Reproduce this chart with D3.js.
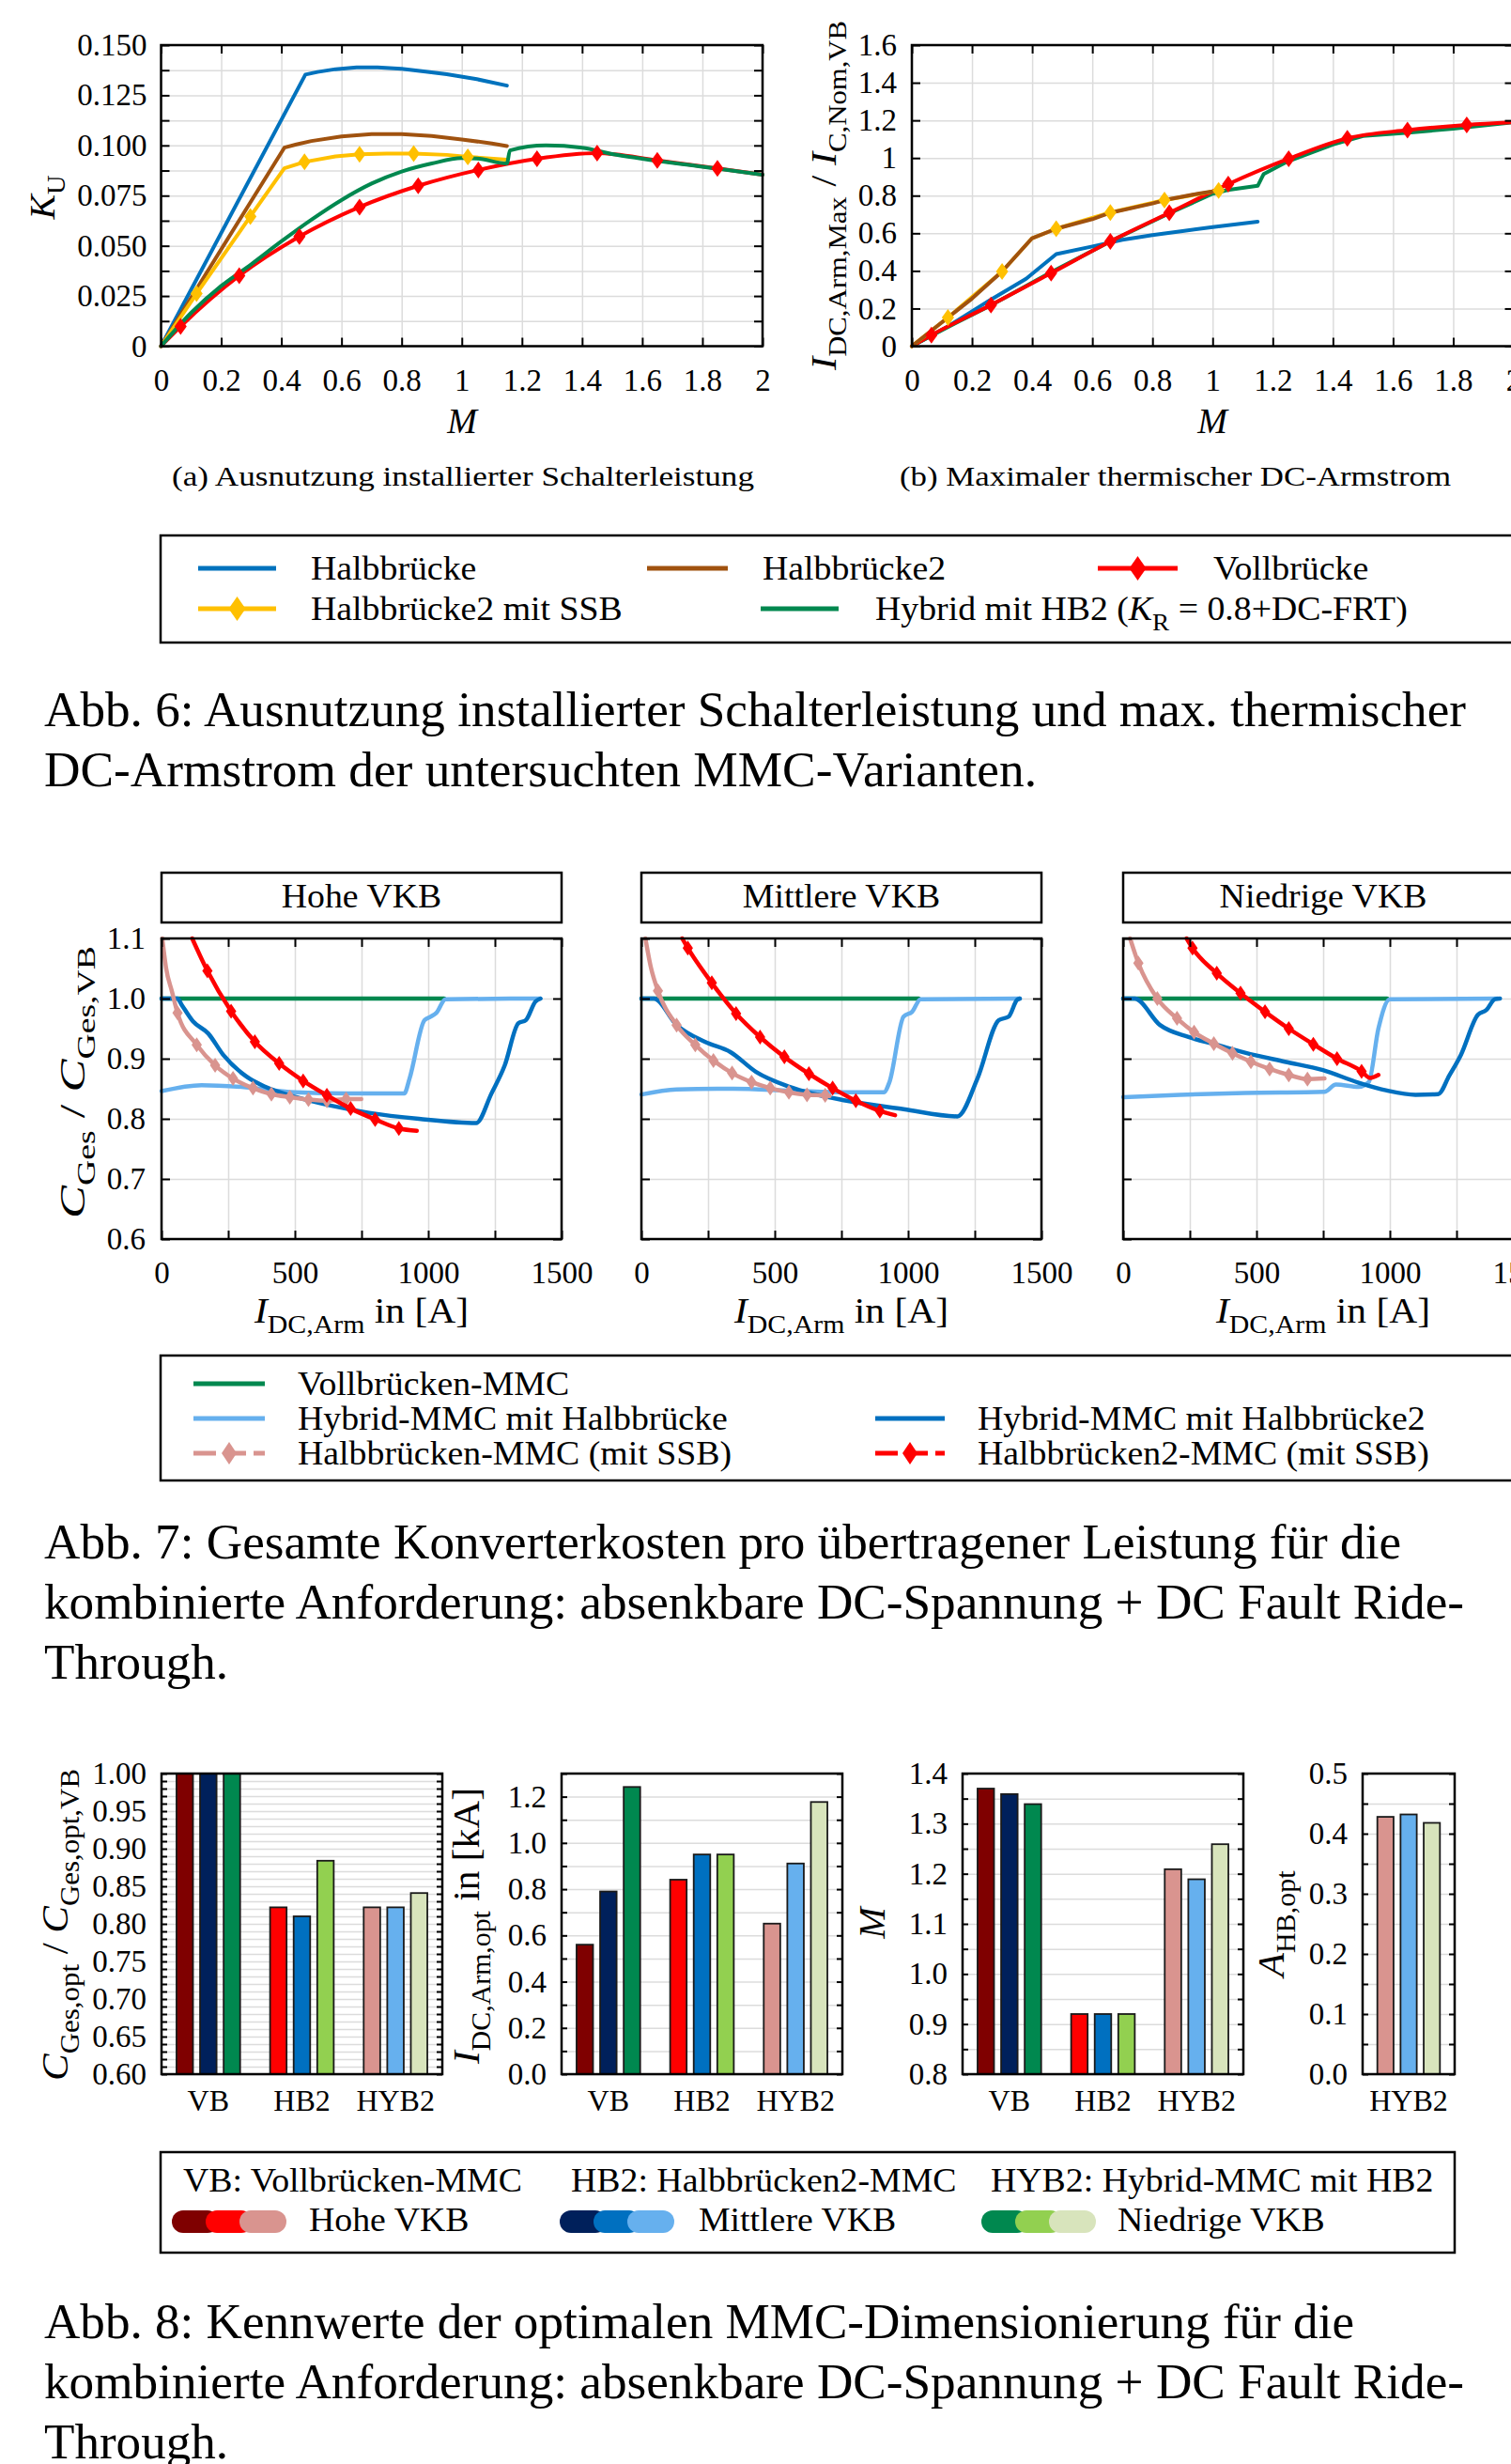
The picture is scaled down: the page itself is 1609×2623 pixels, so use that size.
<!DOCTYPE html>
<html>
<head>
<meta charset="utf-8">
<script src="https://cdn.jsdelivr.net/npm/d3@7"></script>
<style>
    body { margin: 0; background: #fff; }
    svg text { font-family: "Liberation Serif", "DejaVu Serif", serif; fill: #000; }
    .grid line { stroke: #dcdcdc; stroke-width: 1.5; }
    .frame line { stroke: #000; stroke-width: 2; }
</style>
</head>
<body>
<svg id="page" width="1609" height="2623"></svg>
<script>
// ---------- Abb. 6a: K_U over M  ([M, value, marker?]) ----------
var kuHalbbruecke = [[0, 0], [0.48, 0.1353], [0.52, 0.1366], [0.58, 0.1380], [0.65, 0.1389], [0.72, 0.1389], [0.8, 0.1382], [0.88, 0.1368], [0.95, 0.1355], [1.05, 0.1330], [1.15, 0.1298]];
var kuHalbbruecke2 = [[0, 0], [0.41, 0.0989], [0.45, 0.1005], [0.5, 0.1022], [0.6, 0.1045], [0.7, 0.1057], [0.8, 0.1057], [0.9, 0.1047], [1.0, 0.1030], [1.1, 0.1010], [1.15, 0.0997]];
var kuHalbbruecke2SSB = [[0, 0], [0.118, 0.0262, 1], [0.297, 0.0646, 1], [0.41, 0.0886], [0.477, 0.0918, 1], [0.58, 0.0945], [0.66, 0.0956, 1], [0.75, 0.0959], [0.84, 0.0959, 1], [0.95, 0.0953], [1.02, 0.0943, 1], [1.15, 0.0929]];
var kuVollbruecke = [[0, 0], [0.065, 0.0098, 1], [0.26, 0.0351, 1], [0.46, 0.0546, 1], [0.66, 0.0693, 1], [0.855, 0.0799, 1], [1.055, 0.0878, 1], [1.25, 0.0934, 1], [1.45, 0.0962, 1], [1.65, 0.0926, 1], [1.85, 0.0886, 1], [2.0, 0.0854]];
var kuHybrid = [[0, 0], [0.1, 0.0166], [0.2, 0.0300], [0.3, 0.0408], [0.4, 0.0522], [0.5, 0.0630], [0.6, 0.0728], [0.7, 0.0810], [0.8, 0.0870], [0.9, 0.0910], [1.0, 0.0937], [1.05, 0.0935], [1.15, 0.0910], [1.16, 0.0975], [1.28, 0.1000], [1.4, 0.0989], [1.5, 0.0957], [1.6, 0.0934], [1.8, 0.0894], [2.0, 0.0854]];

// ---------- Abb. 6b: I_DC,Arm,Max / I_C,Nom,VB over M ----------
var idcHalbbruecke = [[0, 0], [0.12, 0.105], [0.26, 0.245], [0.38, 0.358], [0.48, 0.489], [0.6, 0.530], [0.7, 0.565], [0.8, 0.590], [0.9, 0.612], [1.0, 0.633], [1.15, 0.662]];
var idcHalbbruecke2 = [[0, 0], [0.12, 0.152], [0.2, 0.253], [0.3, 0.397], [0.4, 0.574], [0.48, 0.624], [0.6, 0.675], [0.66, 0.709], [0.8, 0.758], [0.84, 0.776], [0.95, 0.810], [1.02, 0.827]];
var idcHalbbruecke2SSB = [[0, 0], [0.12, 0.152, 1], [0.3, 0.397, 1], [0.4, 0.574], [0.48, 0.624, 1], [0.66, 0.710, 1], [0.84, 0.776, 1], [1.02, 0.827, 1]];
var idcVollbruecke = [[0, 0], [0.065, 0.059, 1], [0.263, 0.219, 1], [0.463, 0.388, 1], [0.66, 0.557, 1], [0.856, 0.709, 1], [1.052, 0.861, 1], [1.253, 0.996, 1], [1.448, 1.105, 1], [1.648, 1.148, 1], [1.845, 1.176, 1], [2.0, 1.190]];
var idcHybrid = [[0, 0], [0.1, 0.085], [0.26, 0.215], [0.46, 0.390], [0.66, 0.557], [0.86, 0.709], [1.0, 0.810], [1.05, 0.830], [1.15, 0.852], [1.17, 0.915], [1.25, 0.982], [1.4, 1.072], [1.5, 1.117], [1.65, 1.134], [1.8, 1.156], [2.0, 1.190]];

var mTicks = [0, 0.2, 0.4, 0.6, 0.8, 1, 1.2, 1.4, 1.6, 1.8, 2];
var kuTicks = d3.range(0, 0.1501, 0.0125);
var idcTicks = [0, 0.2, 0.4, 0.6, 0.8, 1, 1.2, 1.4, 1.6];
var fig6Legend = ["Halbbrücke", "Halbbrücke2", "Vollbrücke", "Halbbrücke2 mit SSB", "Hybrid mit HB2 ("];

// ---------- Abb. 7: C_Ges / C_Ges,VB over I_DC,Arm  (one array per panel) ----------
var vkbPanels = ["Hohe VKB", "Mittlere VKB", "Niedrige VKB"];
var costVollbrueckenMMC = [
    [[0, 1], [1060, 1]],
    [[0, 1], [1040, 1]],
    [[0, 1], [990, 1]]];
var costHybridHB = [
    [[0, 0.846], [150, 0.856], [300, 0.853], [500, 0.844], [700, 0.842], [910, 0.842], [930, 0.867], [986, 0.964], [1010, 0.970], [1030, 0.976], [1065, 0.999], [1420, 1.0]],
    [[0, 0.8405], [132, 0.849], [345, 0.850], [557, 0.847], [770, 0.844], [909, 0.844], [930, 0.861], [983, 0.970], [1015, 0.978], [1047, 0.999], [1419, 1.0]],
    [[0, 0.836], [213, 0.840], [457, 0.843], [755, 0.845], [798, 0.857], [883, 0.853], [921, 0.861], [957, 0.950], [1000, 0.999], [1404, 1.0]]];
var costHybridHB2 = [
    [[0, 1], [60, 1], [75, 0.990], [118, 0.962], [175, 0.942], [232, 0.906], [319, 0.870], [390, 0.853], [505, 0.836], [634, 0.822], [778, 0.810], [965, 0.800], [1180, 0.793], [1237, 0.842], [1287, 0.889], [1338, 0.959], [1366, 0.964], [1402, 0.995], [1421, 1.0]],
    [[0, 1], [47, 1], [132, 0.956], [238, 0.928], [334, 0.911], [430, 0.878], [557, 0.853], [770, 0.830], [983, 0.816], [1185, 0.804], [1260, 0.867], [1340, 0.964], [1377, 0.970], [1409, 0.998], [1419, 1.0]],
    [[0, 1], [43, 1], [138, 0.956], [245, 0.936], [351, 0.923], [457, 0.910], [606, 0.895], [749, 0.881], [883, 0.860], [989, 0.847], [1096, 0.840], [1181, 0.841], [1223, 0.872], [1266, 0.906], [1330, 0.973], [1362, 0.981], [1394, 0.999], [1413, 1.0]]];
var costHalbbrueckeSSB = [
    [[3, 1.1], [17, 1.051], [39, 1.012], [60, 0.976, 1], [132, 0.923, 1], [201, 0.889, 1], [268, 0.867, 1], [343, 0.851, 1], [412, 0.841, 1], [481, 0.836, 1], [551, 0.832, 1], [620, 0.830, 1], [692, 0.833, 1], [749, 0.833]],
    [[15, 1.1], [36, 1.051], [62, 1.013, 1], [132, 0.956, 1], [202, 0.923, 1], [270, 0.897, 1], [340, 0.876, 1], [413, 0.861, 1], [483, 0.851, 1], [553, 0.844, 1], [621, 0.840, 1], [689, 0.839, 1], [706, 0.838]],
    [[26, 1.1], [57, 1.059, 1], [128, 1.0, 1], [202, 0.967, 1], [266, 0.944, 1], [340, 0.925, 1], [410, 0.909, 1], [479, 0.895, 1], [549, 0.883, 1], [621, 0.873, 1], [691, 0.866, 1], [755, 0.867]]];
var costHalbbruecke2SSB = [
    [[115, 1.1], [172, 1.046, 1], [261, 0.979, 1], [350, 0.928, 1], [441, 0.892, 1], [531, 0.863, 1], [620, 0.839, 1], [709, 0.817, 1], [801, 0.799, 1], [890, 0.784, 1], [957, 0.780]],
    [[153, 1.1], [174, 1.084, 1], [264, 1.026, 1], [355, 0.975, 1], [445, 0.936, 1], [536, 0.903, 1], [628, 0.875, 1], [717, 0.851, 1], [804, 0.830, 1], [894, 0.813, 1], [951, 0.806]],
    [[238, 1.1], [260, 1.084, 1], [351, 1.042, 1], [440, 1.009, 1], [532, 0.978, 1], [621, 0.950, 1], [713, 0.924, 1], [802, 0.900, 1], [894, 0.879, 1], [926, 0.868], [957, 0.873]]];
var idcAxisTicks = [0, 250, 500, 750, 1000, 1250, 1500];
var costTicks = [0.6, 0.7, 0.8, 0.9, 1.0, 1.1];
var fig7Legend = ["Vollbrücken-MMC", "Hybrid-MMC mit Halbbrücke", "Hybrid-MMC mit Halbbrücke2", "Halbbrücken-MMC (mit SSB)", "Halbbrücken2-MMC (mit SSB)"];

// ---------- Abb. 8: optimum values, rows = variant, columns = Hohe/Mittlere/Niedrige VKB ----------
var variants = ["VB", "HB2", "HYB2"];
var costOpt = [[1.0, 1.0, 1.0], [0.822, 0.810, 0.884], [0.822, 0.822, 0.841]];
var idcOpt = [[0.56, 0.79, 1.242], [0.841, 0.95, 0.95], [0.651, 0.911, 1.177]];
var mOpt = [[1.37, 1.359, 1.339], [0.92, 0.92, 0.92], [1.209, 1.189, 1.259]];
var ahbOpt = [[0.428, 0.432, 0.418]];
var fig8Legend = ["VB: Vollbrücken-MMC", "HB2: Halbbrücken2-MMC", "HYB2: Hybrid-MMC mit HB2"];

var captions6 = ["Abb. 6: Ausnutzung installierter Schalterleistung und max. thermischer", "DC-Armstrom der untersuchten MMC-Varianten."];
var captions7 = ["Abb. 7: Gesamte Konverterkosten pro übertragener Leistung für die", "kombinierte Anforderung: absenkbare DC-Spannung + DC Fault Ride-", "Through."];
var captions8 = ["Abb. 8: Kennwerte der optimalen MMC-Dimensionierung für die", "kombinierte Anforderung: absenkbare DC-Spannung + DC Fault Ride-", "Through."];

// colours
var cBlue = "#0072bd", cBrown = "#a0520f", cRed = "#ff0000", cYellow = "#ffc000", cGreen = "#00884f";
var cLightBlue = "#66b0ee", cDarkBlue = "#0070c0", cPink = "#d9948f";
var barColors = {
    VB: ["#7f0000", "#00205b", "#00884f"],
    HB2: ["#ff0000", "#0070c0", "#92d050"],
    HYB2: ["#d9948f", "#66b0ee", "#d8e4bc"]
};

var page = d3.select("#page");
page.append("rect").attr("width", 1609).attr("height", 2623).attr("fill", "#fff");

//Text with italic parts and subscripts: parts = [[text, "i"|"s"|""], ...]
function mathText(parent, x, y, parts, size, opts) {
    opts = opts || {};
    var t = parent.append("text")
        .attr("x", x).attr("y", y)
        .attr("font-size", size)
        .attr("text-anchor", opts.anchor || "start");
    if (opts.rotate) t.attr("transform", "rotate(-90," + x + "," + y + ")");
    var inSub = false, shift = size * 0.3;
    parts.forEach(function (p) {
        var s = t.append("tspan").text(p[0]);
        var sub = p[1] == "s";
        if (p[1] == "i") s.attr("font-style", "italic");
        if (sub) s.attr("font-size", size * 0.72);
        if (sub && !inSub) s.attr("dy", shift);
        if (!sub && inSub) s.attr("dy", -shift);
        inSub = sub;
    });
    if (opts.len) t.attr("textLength", opts.len).attr("lengthAdjust", "spacingAndGlyphs");
    return t;
}

//Widen texts a bit (the original font runs wider than Liberation Serif)
function stretch(sel, k) {
    sel.each(function () {
        var n = this.getComputedTextLength();
        d3.select(this).attr("textLength", n * k).attr("lengthAdjust", "spacingAndGlyphs");
    });
}

function diamond(w, h) {
    return "M0," + (-h) + "L" + w + ",0L0," + h + "L" + (-w) + ",0Z";
}

function drawSeries(g, x, y, data, color, width, curve) {
    var line = d3.line()
        .x(d => x(d[0]))
        .y(d => y(d[1]))
        .curve(curve || d3.curveMonotoneX);
    g.append("path")
        .datum(data)
        .attr("d", line)
        .attr("fill", "none")
        .attr("stroke", color)
        .attr("stroke-width", width)
        .attr("stroke-linejoin", "round")
        .attr("stroke-linecap", "round");
}

function drawMarkers(g, x, y, data, color, shape) {
    g.selectAll(null)
        .data(data.filter(d => d[2]))
        .enter().append("path")
        .attr("d", shape)
        .attr("transform", d => "translate(" + x(d[0]) + "," + y(d[1]) + ")")
        .attr("fill", color);
}

//Grid lines behind the data
function boxGrid(g, x, y, xGrid, yGrid) {
    var left = x.range()[0], right = x.range()[1], top = y.range()[1], bottom = y.range()[0];
    g.append("g")
        .attr("class", "grid")
        .attr("transform", "translate(" + left + ",0)")
        .call(d3.axisLeft(y).tickValues(yGrid).tickSize(-(right - left)).tickFormat(""))
        .call((s) => { s.select(".domain").remove() });
    if (xGrid) {
        g.append("g")
            .attr("class", "grid")
            .attr("transform", "translate(0," + bottom + ")")
            .call(d3.axisBottom(x).tickValues(xGrid).tickSize(-(bottom - top)).tickFormat(""))
            .call((s) => { s.select(".domain").remove() });
    }
}

//Frame with inward ticks on all sides and labels left / bottom
function boxFrame(g, x, y, c) {
    var left = x.range()[0], right = x.range()[1], top = y.range()[1], bottom = y.range()[0];
    var yl = g.append("g")
        .attr("class", "frame")
        .attr("transform", "translate(" + left + ",0)")
        .call(d3.axisLeft(y).tickValues(c.yTicks).tickSize(-c.tick).tickPadding(c.yPad).tickFormat(c.yFormat || ""));
    yl.select(".domain").remove();
    yl.attr("font-size", c.font);
    g.append("g")
        .attr("class", "frame")
        .attr("transform", "translate(" + right + ",0)")
        .call(d3.axisRight(y).tickValues(c.yTicks).tickSize(-c.tick).tickFormat(""))
        .select(".domain").remove();
    if (c.xTicks) {
        var xl = g.append("g")
            .attr("class", "frame")
            .attr("transform", "translate(0," + bottom + ")")
            .call(d3.axisBottom(x).tickValues(c.xTicks).tickSize(-c.tick).tickPadding(c.xPad).tickFormat(c.xFormat || ""));
        xl.select(".domain").remove();
        xl.attr("font-size", c.font);
        g.append("g")
            .attr("class", "frame")
            .attr("transform", "translate(0," + top + ")")
            .call(d3.axisTop(x).tickValues(c.xTicks).tickSize(-c.tick).tickFormat(""))
            .select(".domain").remove();
    }
    g.append("rect")
        .attr("x", left).attr("y", top)
        .attr("width", right - left).attr("height", bottom - top)
        .attr("fill", "none").attr("stroke", "#000").attr("stroke-width", 2.5);
}

function legendEntry(g, x1, x2, y, color, width, shape, dash) {
    var l = g.append("line")
        .attr("x1", x1).attr("x2", x2).attr("y1", y).attr("y2", y)
        .attr("stroke", color).attr("stroke-width", width);
    if (dash) l.attr("stroke-dasharray", dash);
    if (shape) {
        g.append("path").attr("d", shape)
            .attr("transform", "translate(" + (x1 + x2) / 2 + "," + y + ")")
            .attr("fill", color);
    }
}

function caption(lines, y0, widths) {
    lines.forEach(function (txt, i) {
        page.append("text")
            .attr("x", 47).attr("y", y0 + i * 64)
            .attr("font-size", 52)
            .attr("textLength", widths[i]).attr("lengthAdjust", "spacingAndGlyphs")
            .text(txt);
    });
}

// ================= Abb. 6 =================
var fmtM = d3.format("~g");
var markerBig = diamond(6.5, 9);

//(a)
var xa = d3.scaleLinear().domain([0, 2]).range([171.5, 812]);
var ya = d3.scaleLinear().domain([0, 0.15]).range([368.5, 48]);
var ga = page.append("g");
boxGrid(ga, xa, ya, mTicks, kuTicks);
drawSeries(ga, xa, ya, kuHalbbruecke, cBlue, 4, d3.curveLinear);
drawSeries(ga, xa, ya, kuHalbbruecke2, cBrown, 4, d3.curveLinear);
drawSeries(ga, xa, ya, kuHalbbruecke2SSB, cYellow, 4, d3.curveLinear);
drawSeries(ga, xa, ya, kuVollbruecke, cRed, 4);
drawSeries(ga, xa, ya, kuHybrid, cGreen, 4);
drawMarkers(ga, xa, ya, kuHalbbruecke2SSB, cYellow, markerBig);
drawMarkers(ga, xa, ya, kuVollbruecke, cRed, markerBig);
boxFrame(ga, xa, ya, {
    yTicks: kuTicks, xTicks: mTicks, tick: 9, yPad: 15, xPad: 24, font: 33,
    yFormat: (d) => Math.round(d / 0.0125) % 2 ? "" : (d == 0 ? "0" : d3.format(".3f")(d)),
    xFormat: fmtM
});
mathText(page, 58, 210, [["K", "i"], ["U", "s"]], 38, { anchor: "middle", rotate: true, len: 47 });
mathText(page, 492, 461, [["M", "i"]], 38, { anchor: "middle" });
page.append("text").attr("x", 183).attr("y", 517).attr("font-size", 30)
    .attr("textLength", 620).attr("lengthAdjust", "spacingAndGlyphs")
    .text("(a) Ausnutzung installierter Schalterleistung");

//(b)
var xb = d3.scaleLinear().domain([0, 2]).range([971, 1611.5]);
var yb = d3.scaleLinear().domain([0, 1.6]).range([368.5, 48]);
var gb = page.append("g");
boxGrid(gb, xb, yb, mTicks, idcTicks);
drawSeries(gb, xb, yb, idcHalbbruecke, cBlue, 4, d3.curveLinear);
drawSeries(gb, xb, yb, idcHybrid, cGreen, 4, d3.curveLinear);
drawSeries(gb, xb, yb, idcVollbruecke, cRed, 4);
drawSeries(gb, xb, yb, idcHalbbruecke2SSB, cYellow, 4, d3.curveLinear);
drawSeries(gb, xb, yb, idcHalbbruecke2, cBrown, 4, d3.curveLinear);
drawMarkers(gb, xb, yb, idcHalbbruecke2SSB, cYellow, markerBig);
drawMarkers(gb, xb, yb, idcVollbruecke, cRed, markerBig);
boxFrame(gb, xb, yb, {
    yTicks: idcTicks, xTicks: mTicks, tick: 9, yPad: 16, xPad: 24, font: 33,
    yFormat: fmtM, xFormat: fmtM
});
mathText(page, 890, 208, [["I", "i"], ["DC,Arm,Max", "s"], ["  /  ", ""], ["I", "i"], ["C,Nom,VB", "s"]], 38,
    { anchor: "middle", rotate: true, len: 372 });
mathText(page, 1291, 461, [["M", "i"]], 38, { anchor: "middle" });
page.append("text").attr("x", 958).attr("y", 517).attr("font-size", 30)
    .attr("textLength", 587).attr("lengthAdjust", "spacingAndGlyphs")
    .text("(b) Maximaler thermischer DC-Armstrom");

//Legend Abb. 6
var lg6 = page.append("g").attr("font-size", 35);
lg6.append("rect").attr("x", 171).attr("y", 570).attr("width", 1460).attr("height", 114)
    .attr("fill", "none").attr("stroke", "#000").attr("stroke-width", 2.5);
var legMarker = diamond(9, 13);
legendEntry(lg6, 211, 294, 605, cBlue, 5);
lg6.append("text").attr("x", 331).attr("y", 617).text(fig6Legend[0]);
legendEntry(lg6, 689, 775, 605, cBrown, 5);
lg6.append("text").attr("x", 812).attr("y", 617).text(fig6Legend[1]);
legendEntry(lg6, 1169, 1254, 605, cRed, 5, legMarker);
lg6.append("text").attr("x", 1292).attr("y", 617).text(fig6Legend[2]);
legendEntry(lg6, 211, 294, 648, cYellow, 5, legMarker);
lg6.append("text").attr("x", 331).attr("y", 660).text(fig6Legend[3]);
legendEntry(lg6, 810, 893, 648, cGreen, 5);
mathText(lg6, 932, 660, [[fig6Legend[4], ""], ["K", "i"], ["R", "s"], [" = 0.8+DC-FRT)", ""]], 35);
stretch(lg6.selectAll("text"), 1.08);

caption(captions6, 773, [1514, 1057]);

// ================= Abb. 7 =================
var panelX = [172, 683, 1196];
var markerSmall = diamond(5.5, 8);
vkbPanels.forEach(function (title, i) {
    var x = d3.scaleLinear().domain([0, 1500]).range([panelX[i], panelX[i] + 426]);
    var y = d3.scaleLinear().domain([0.6, 1.1]).range([1319, 999]);
    var g = page.append("g");

    //Panel title
    g.append("rect").attr("x", panelX[i]).attr("y", 929).attr("width", 426).attr("height", 53)
        .attr("fill", "none").attr("stroke", "#000").attr("stroke-width", 2.5);
    stretch(g.append("text").attr("x", panelX[i] + 213).attr("y", 966).attr("font-size", 36)
        .attr("text-anchor", "middle").text(title), 1.05);

    boxGrid(g, x, y, idcAxisTicks, costTicks);
    drawSeries(g, x, y, costVollbrueckenMMC[i], cGreen, 4.5);
    drawSeries(g, x, y, costHybridHB[i], cLightBlue, 4.5);
    drawSeries(g, x, y, costHybridHB2[i], cDarkBlue, 4.5);
    drawSeries(g, x, y, costHalbbrueckeSSB[i], cPink, 4.5);
    drawMarkers(g, x, y, costHalbbrueckeSSB[i], cPink, markerSmall);
    drawSeries(g, x, y, costHalbbruecke2SSB[i], cRed, 4.5);
    drawMarkers(g, x, y, costHalbbruecke2SSB[i], cRed, markerSmall);
    boxFrame(g, x, y, {
        yTicks: costTicks, xTicks: idcAxisTicks, tick: 9, yPad: 17, xPad: 24, font: 33,
        yFormat: i == 0 ? d3.format(".1f") : () => "",
        xFormat: (d) => d % 500 ? "" : d
    });
    mathText(page, panelX[i] + 213, 1408, [["I", "i"], ["DC,Arm", "s"], [" in [A]", ""]], 38,
        { anchor: "middle", len: 228 });
});
mathText(page, 90, 1152, [["C", "i"], ["Ges", "s"], ["  /  ", ""], ["C", "i"], ["Ges,VB", "s"]], 38,
    { anchor: "middle", rotate: true, len: 290 });

//Legend Abb. 7
var lg7 = page.append("g").attr("font-size", 35);
lg7.append("rect").attr("x", 171).attr("y", 1443).attr("width", 1460).attr("height", 133)
    .attr("fill", "none").attr("stroke", "#000").attr("stroke-width", 2.5);
legendEntry(lg7, 206, 282, 1473, cGreen, 5);
lg7.append("text").attr("x", 317).attr("y", 1485).text(fig7Legend[0]);
legendEntry(lg7, 206, 282, 1510, cLightBlue, 5);
lg7.append("text").attr("x", 317).attr("y", 1522).text(fig7Legend[1]);
legendEntry(lg7, 932, 1006, 1510, cDarkBlue, 5);
lg7.append("text").attr("x", 1041).attr("y", 1522).text(fig7Legend[2]);
legendEntry(lg7, 206, 282, 1547, cPink, 5, diamond(8, 12), "24,8");
lg7.append("text").attr("x", 317).attr("y", 1559).text(fig7Legend[3]);
legendEntry(lg7, 932, 1006, 1547, cRed, 5, diamond(8, 12), "24,8");
lg7.append("text").attr("x", 1041).attr("y", 1559).text(fig7Legend[4]);
stretch(lg7.selectAll("text"), 1.08);

caption(captions7, 1659, [1445, 1512, 196]);

// ================= Abb. 8 =================
function barChart(x0, x1, groups, values, dom, ticks, labelEvery, fmt) {
    var g = page.append("g");
    var x = d3.scaleBand().domain(groups).range([x0, x1]);
    var bw = x.bandwidth();
    var inner = d3.scaleBand().domain([0, 1, 2]).range([bw * 0.16, bw * 0.84]).paddingInner(0.3);
    var y = d3.scaleLinear().domain(dom).range([2208, 1888]);

    boxGrid(g, d3.scaleLinear().range([x0, x1]), y, null, ticks);

    //For each variant draw the three VKB bars
    groups.forEach(function (grp, i) {
        g.selectAll(null)
            .data(values[i])
            .enter().append("rect")
            .attr("x", (d, j) => x(grp) + inner(j))
            .attr("y", (d) => y(d))
            .attr("width", inner.bandwidth())
            .attr("height", (d) => y(dom[0]) - y(d))
            .attr("fill", (d, j) => barColors[grp][j])
            .attr("stroke", "#1a1a1a")
            .attr("stroke-width", 1.8);
    });

    var yl = g.append("g")
        .attr("class", "frame")
        .attr("transform", "translate(" + x0 + ",0)")
        .call(d3.axisLeft(y).tickValues(ticks).tickSize(-6).tickPadding(16)
            .tickFormat((d) => Math.round((d - dom[0]) / labelEvery * 1000) % 1000 == 0 ? fmt(d) : ""));
    yl.select(".domain").remove();
    yl.attr("font-size", 33);
    g.append("g")
        .attr("class", "frame")
        .attr("transform", "translate(" + x1 + ",0)")
        .call(d3.axisRight(y).tickValues(ticks).tickSize(-6).tickFormat(""))
        .select(".domain").remove();
    var xl = g.append("g")
        .attr("transform", "translate(0,2208)")
        .call(d3.axisBottom(x).tickSize(0).tickPadding(16));
    xl.select(".domain").remove();
    xl.attr("font-size", 32);
    g.append("rect")
        .attr("x", x0).attr("y", 1888).attr("width", x1 - x0).attr("height", 320)
        .attr("fill", "none").attr("stroke", "#000").attr("stroke-width", 2.5);
}

barChart(172, 471, variants, costOpt, [0.6, 1.0], d3.range(0.6, 1.0001, 0.01), 0.05, d3.format(".2f"));
barChart(598, 897, variants, idcOpt, [0, 1.3], d3.range(0, 1.3001, 0.1), 0.2, d3.format(".1f"));
barChart(1025, 1324, variants, mOpt, [0.8, 1.4], d3.range(0.8, 1.4001, 0.05), 0.1, d3.format(".1f"));
barChart(1451, 1549, ["HYB2"], ahbOpt, [0, 0.5], d3.range(0, 0.5001, 0.05), 0.1, d3.format(".1f"));

mathText(page, 72, 2049, [["C", "i"], ["Ges,opt", "s"], ["  /  ", ""], ["C", "i"], ["Ges,opt,VB", "s"]], 40,
    { anchor: "middle", rotate: true, len: 332 });
mathText(page, 510, 2050, [["I", "i"], ["DC,Arm,opt", "s"], [" in [kA]", ""]], 40,
    { anchor: "middle", rotate: true, len: 294 });
mathText(page, 942, 2047, [["M", "i"]], 40, { anchor: "middle", rotate: true });
mathText(page, 1367, 2048, [["A", "i"], ["HB,opt", "s"]], 40, { anchor: "middle", rotate: true, len: 113 });

//Legend Abb. 8
var lg8 = page.append("g").attr("font-size", 35);
lg8.append("rect").attr("x", 171).attr("y", 2291).attr("width", 1378).attr("height", 107)
    .attr("fill", "none").attr("stroke", "#000").attr("stroke-width", 2.5);
[195, 608, 1055].forEach(function (xp, i) {
    lg8.append("text").attr("x", xp).attr("y", 2333).text(fig8Legend[i]);
});
var pillX = [183, 596, 1045], pillText = [329, 744, 1190];
vkbPanels.forEach(function (name, k) {
    variants.forEach(function (v, j) {
        lg8.append("rect")
            .attr("x", pillX[k] + j * 36).attr("y", 2353)
            .attr("width", 50).attr("height", 24).attr("rx", 12)
            .attr("fill", barColors[v][k]);
    });
    lg8.append("text").attr("x", pillText[k]).attr("y", 2375).text(name);
});
stretch(lg8.selectAll("text"), 1.08);

caption(captions8, 2489, [1395, 1512, 196]);
</script>
</body>
</html>
